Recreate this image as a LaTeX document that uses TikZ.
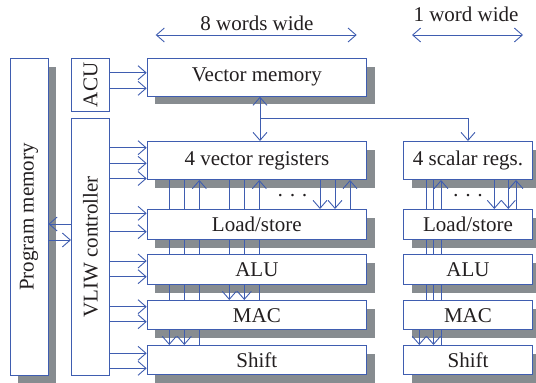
\documentclass[tikz,border=0pt]{standalone}
\usepackage{fontspec}
\setmainfont{Liberation Serif}
\usetikzlibrary{shadows,arrows.meta}
\definecolor{lblue}{HTML}{3F5DB0}
\definecolor{shgray}{HTML}{878C90}
\definecolor{txt}{HTML}{231F20}
\begin{document}
\begin{tikzpicture}[x=1pt,y=-1pt,
  font=\fontsize{21}{24}\selectfont, text=txt,
  box/.style={draw=lblue, line width=1pt, fill=white, inner sep=0pt, anchor=north west},
  sbox/.style={box, drop shadow={shadow xshift=8pt, shadow yshift=-8pt, fill=shgray, opacity=1}},
  vbox/.style={sbox, minimum width=219.3pt},
  scbox/.style={sbox, minimum width=128.4pt},
  bus/.style={draw=lblue, line width=0.9pt},
  arr/.style={bus, -{Straight Barb[length=8pt,width=14pt]}},
  darr/.style={bus, {Straight Barb[length=8pt,width=14pt]}-{Straight Barb[length=8pt,width=14pt]}},
  lbl/.style={anchor=base, inner sep=0pt}
]
\useasboundingbox (0,0) rectangle (536,383);

% width indicators
\coordinate (w8a) at (155.7,35);
\coordinate (w8b) at (356.7,35);
\coordinate (w1a) at (412,35);
\coordinate (w1b) at (523,35);
\draw[darr] (w8a) -- (w8b);
\draw[darr] (w1a) -- (w1b);
\node[lbl] (t8) at (257,30) {8 words wide};
\node[lbl] (t1) at (466,21.7) {1 word wide};

% left column
\node[sbox, minimum width=38pt, minimum height=317pt] (pm) at (9.5,58) {\rotatebox{90}{Program memory}};
\node[box, minimum width=38pt, minimum height=52.7pt] (acu) at (71,58) {\rotatebox{90}{ACU}};
\node[box, minimum width=38pt, minimum height=257pt] (vliw) at (71,118) {\rotatebox{90}{VLIW controller}};

% vector side
\node[vbox, minimum height=37.7pt] (vm) at (146.7,58) {Vector memory};
\node[vbox, minimum height=38pt] (reg) at (146.7,141) {4 vector registers};
\node[vbox, minimum height=30pt] (ls) at (146.7,209) {Load/store};
\node[vbox, minimum height=29.7pt] (alu) at (146.7,254.3) {ALU};
\node[vbox, minimum height=29.3pt] (mac) at (146.7,300) {MAC};
\node[vbox, minimum height=29.3pt] (sh) at (146.7,345) {Shift};

% scalar side
\node[scbox, minimum height=38pt] (sreg) at (403.3,141) {4 scalar regs.};
\node[scbox, minimum height=30pt] (sls) at (403.3,209) {Load/store};
\node[scbox, minimum height=29.7pt] (salu) at (403.3,254.3) {ALU};
\node[scbox, minimum height=29.3pt] (smac) at (403.3,300) {MAC};
\node[scbox, minimum height=29.3pt] (ssh) at (403.3,345) {Shift};

% y levels
\coordinate (a1) at (0,72.7);
\coordinate (a2) at (0,88.3);
\coordinate (r1) at (0,147.7);
\coordinate (r2) at (0,163.3);
\coordinate (r3) at (0,178.5);
\coordinate (l1) at (0,213.3);
\coordinate (l2) at (0,231.7);
\coordinate (u1) at (0,261);
\coordinate (u2) at (0,276.7);
\coordinate (m1) at (0,306.7);
\coordinate (m2) at (0,321.7);
\coordinate (h1) at (0,353.3);
\coordinate (h2) at (0,368.3);
\coordinate (p1) at (0,224);
\coordinate (p2) at (0,240);

% ACU -> vector memory
\foreach \c in {a1,a2} \draw[arr] (acu.east |- \c) -- (vm.west |- \c);
% VLIW -> units
\foreach \c in {r1,r2,r3} \draw[arr] (vliw.east |- \c) -- (reg.west |- \c);
\foreach \c in {l1,l2} \draw[arr] (vliw.east |- \c) -- (ls.west |- \c);
\foreach \c in {u1,u2} \draw[arr] (vliw.east |- \c) -- (alu.west |- \c);
\foreach \c in {m1,m2} \draw[arr] (vliw.east |- \c) -- (mac.west |- \c);
\foreach \c in {h1,h2} \draw[arr] (vliw.east |- \c) -- (sh.west |- \c);
% program memory <-> VLIW
\draw[arr] (vliw.west |- p1) -- (pm.east |- p1);
\draw[arr] (pm.east |- p2) -- (vliw.west |- p2);

% vector memory <-> registers
\coordinate (bx) at (260,0);
\coordinate (jv) at (260,118.3);
\draw[darr] (vm.south -| bx) -- (reg.north -| bx);
\draw[arr] (jv) -| (sreg.north);

% bus x positions
\coordinate (v1) at (169.3,0);
\coordinate (v2) at (184.3,0);
\coordinate (v3) at (199.3,0);
\coordinate (v4) at (229.3,0);
\coordinate (v5) at (244.3,0);
\coordinate (v6) at (259.3,0);
\coordinate (v7) at (320,0);
\coordinate (v8) at (335,0);
\coordinate (v9) at (350,0);
\coordinate (s0) at (419.3,0);
\coordinate (s1) at (426,0);
\coordinate (s2) at (433.5,0);
\coordinate (s3) at (441,0);
\coordinate (s4) at (494.3,0);
\coordinate (s5) at (508.3,0);
\coordinate (s6) at (516,0);

% vector buses: registers - load/store
\foreach \c in {v1,v2,v4,v5} \draw[bus] (\c |- reg.south) -- (\c |- ls.north);
\foreach \c in {v3,v6,v9} \draw[arr] (\c |- ls.north) -- (\c |- reg.south);
\foreach \c in {v7,v8} \draw[arr] (\c |- reg.south) -- (\c |- ls.north);
% load/store - ALU
\foreach \c in {v1,v2,v3,v4,v5,v6} \draw[bus] (\c |- ls.south) -- (\c |- alu.north);
% ALU - MAC
\foreach \c in {v1,v2,v3,v6} \draw[bus] (\c |- alu.south) -- (\c |- mac.north);
\foreach \c in {v4,v5} \draw[arr] (\c |- alu.south) -- (\c |- mac.north);
% MAC - Shift
\draw[bus] (v3 |- mac.south) -- (v3 |- sh.north);
\foreach \c in {v1,v2} \draw[arr] (\c |- mac.south) -- (\c |- sh.north);

% scalar buses
\foreach \c in {s1,s2} \draw[bus] (\c |- sreg.south) -- (\c |- sls.north);
\foreach \c in {s3,s6} \draw[arr] (\c |- sls.north) -- (\c |- sreg.south);
\foreach \c in {s4,s5} \draw[arr] (\c |- sreg.south) -- (\c |- sls.north);
\foreach \c in {s1,s2,s3} \draw[bus] (\c |- sls.south) -- (\c |- salu.north);
\foreach \c in {s1,s2,s3} \draw[bus] (\c |- salu.south) -- (\c |- smac.north);
\draw[bus] (s3 |- smac.south) -- (s3 |- ssh.north);
\foreach \c in {s0,s2} \draw[arr] (\c |- smac.south) -- (\c |- ssh.north);

% ellipses
\node[lbl] (dv) at (292.5,202) {· · ·};
\node[lbl] (ds) at (468,202) {· · ·};
\end{tikzpicture}
\end{document}
